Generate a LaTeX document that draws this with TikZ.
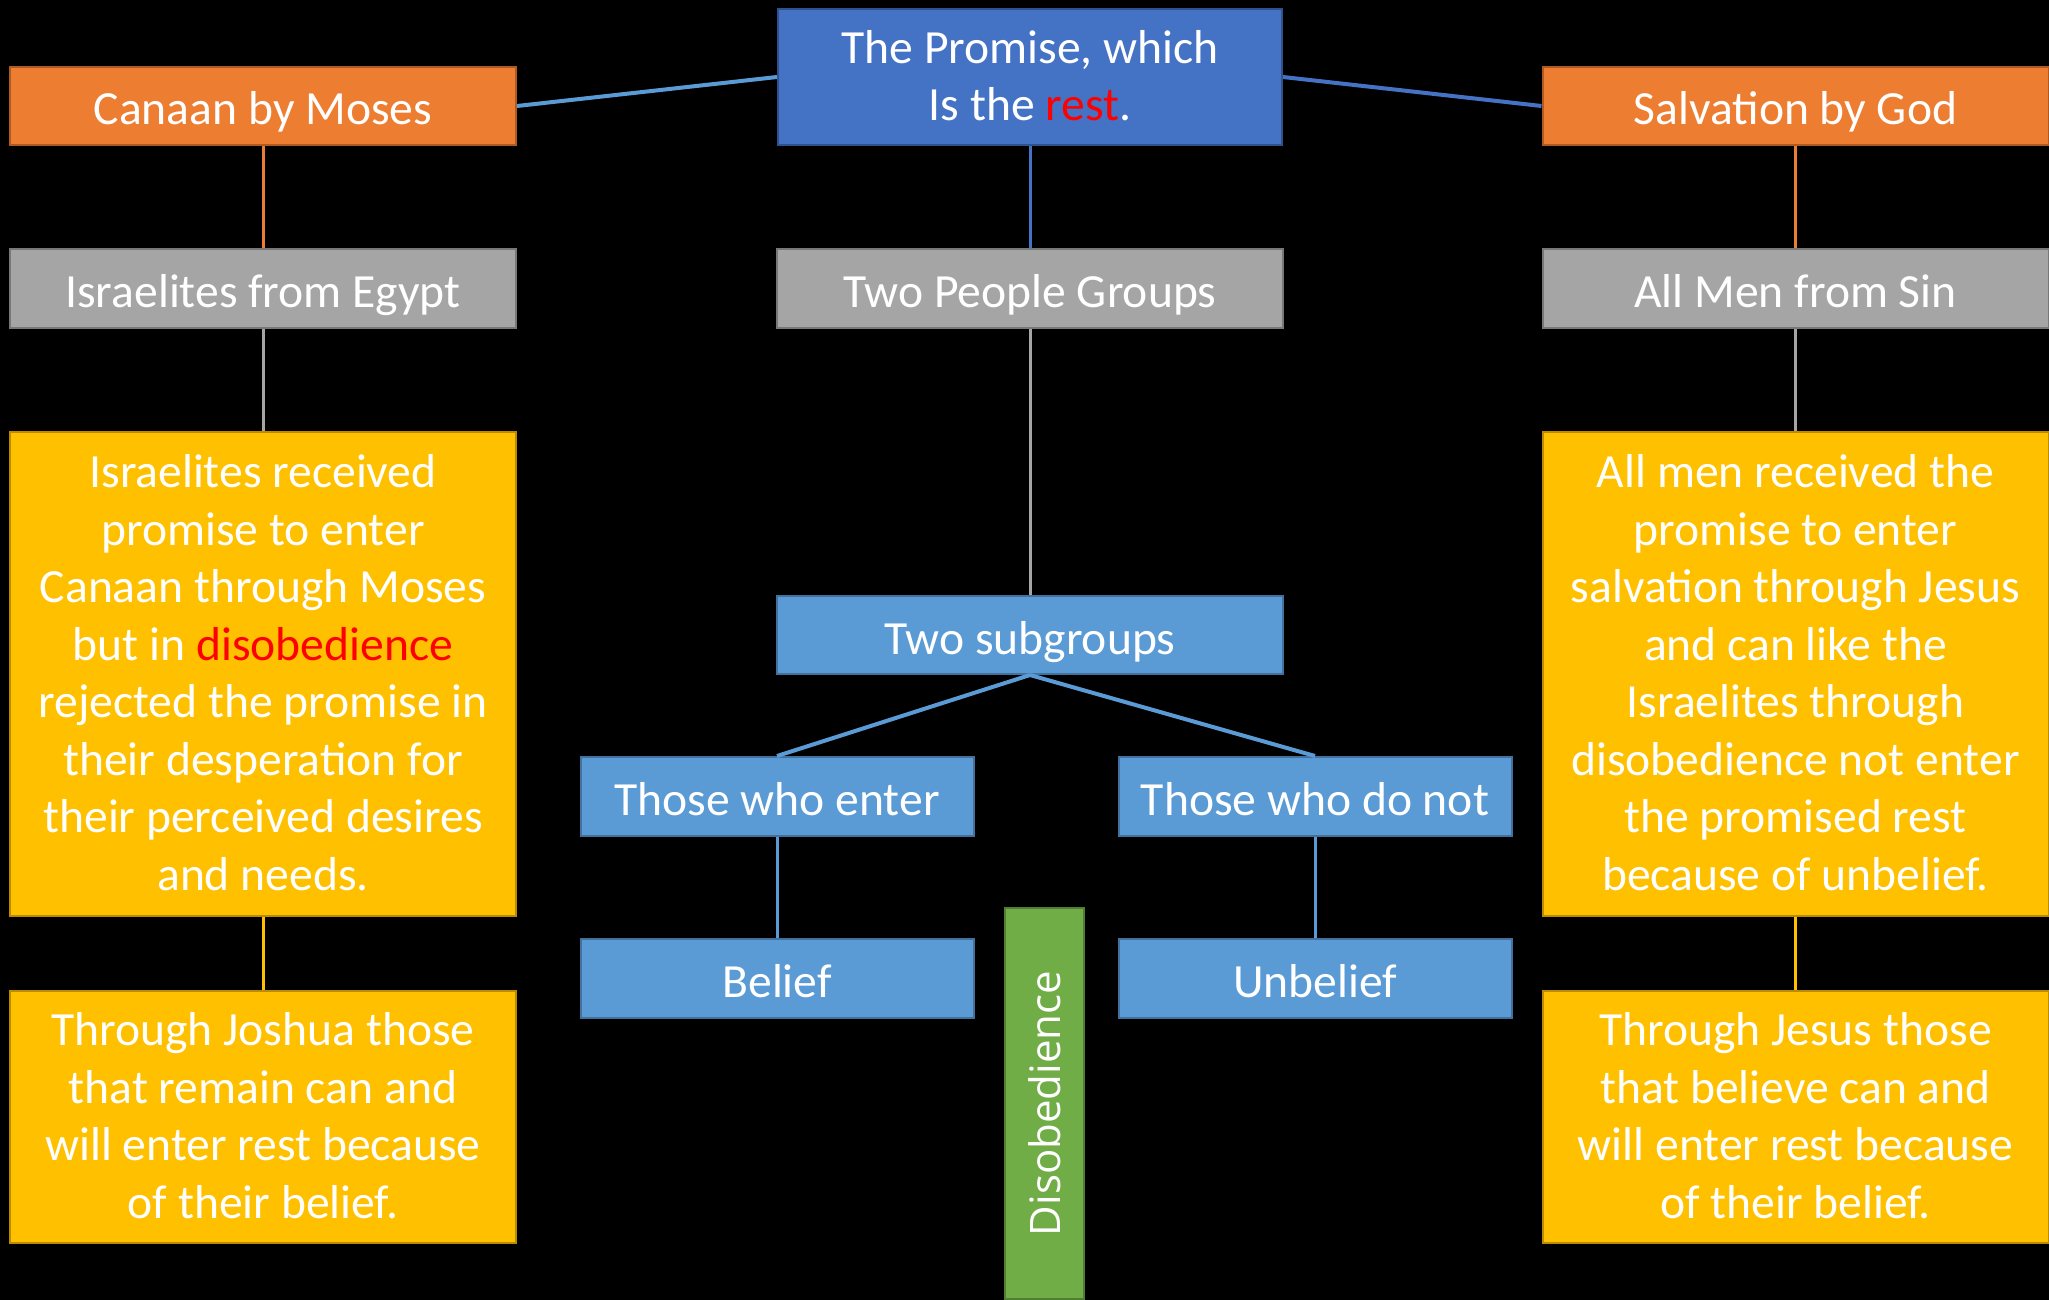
\documentclass[tikz,border=0pt]{standalone}
\usepackage{fontspec}
\setmainfont{Carlito}
\newfontfamily\sidefont{Open Sans}
\definecolor{orangeF}{HTML}{ED7D31}
\definecolor{orangeD}{HTML}{AE5A21}
\definecolor{grayF}{HTML}{A5A5A5}
\definecolor{grayD}{HTML}{787878}
\definecolor{goldF}{HTML}{FFC000}
\definecolor{goldD}{HTML}{BC8C00}
\definecolor{blueF}{HTML}{4472C4}
\definecolor{blueD}{HTML}{2F528F}
\definecolor{lblueF}{HTML}{5B9BD5}
\definecolor{lblueD}{HTML}{41719C}
\definecolor{greenF}{HTML}{70AD47}
\definecolor{greenD}{HTML}{507E32}
\newcommand\lstop{\rule{0pt}{25pt}}
\newcommand\lstopm{\rule{0pt}{21pt}}
\newcommand\lsbot{\rule[-6pt]{0pt}{6pt}}
\begin{document}
\begin{tikzpicture}[x=0.5pt,y=-0.5pt,
    box/.style={draw,line width=1pt,text=white,align=center,inner sep=0pt,
        font=\fontsize{23.8pt}{28.75pt}\selectfont},
    one/.style={box,execute at begin node=\lstop,execute at end node=\lsbot},
    wide/.style={one,minimum width=253pt,minimum height=39pt},
    half/.style={one,fill=lblueF,draw=lblueD,minimum width=196.5pt,minimum height=39.5pt},
    tall/.style={box,fill=goldF,draw=goldD,minimum width=253pt,minimum height=242pt},
    low/.style={box,fill=goldF,draw=goldD,minimum width=253pt,minimum height=126pt},
    link/.style={line width=1.5pt}]
    \useasboundingbox[fill=black] (0,0) rectangle (2049,1300);
    \node[box,fill=blueF,draw=blueD,minimum width=252pt,minimum height=68pt] (promise) at (1030,77) {\lstopm The Promise, which\\Is the \textcolor{red}{rest}.\lsbot};
    \node[wide,fill=orangeF,draw=orangeD] (canaan) at (263,106) {Canaan by Moses};
    \node[wide,fill=orangeF,draw=orangeD] (salvation) at (1795.5,106) {Salvation by God};
    \node[wide,fill=grayF,draw=grayD] (israel) at (263,288.5) {Israelites from Egypt};
    \node[wide,fill=grayF,draw=grayD] (people) at (1030,288.5) {Two People Groups};
    \node[wide,fill=grayF,draw=grayD] (allmen) at (1795.5,288.5) {All Men from Sin};
    \node[tall] (israeltext) at (263,674) {\lstopm Israelites received\\promise to enter\\Canaan through Moses\\but in \textcolor{red}{disobedience}\\rejected the promise in\\their desperation for\\their perceived desires\\and needs.\lsbot};
    \node[tall] (alltext) at (1795.5,674) {\lstopm All men received the\\promise to enter\\salvation through Jesus\\and can like the\\Israelites through\\disobedience not enter\\the promised rest\\because of unbelief.\lsbot};
    \node[low] (joshua) at (263,1117) {\lstopm Through Joshua those\\that remain can and\\will enter rest because\\of their belief.\lsbot};
    \node[low] (jesus) at (1795.5,1117) {\lstopm Through Jesus those\\that believe can and\\will enter rest because\\of their belief.\lsbot};
    \node[wide,fill=lblueF,draw=lblueD] (sub) at (1030,635) {Two subgroups};
    \node[half] (enter) at (777,796.5) {Those who enter};
    \node[half] (donot) at (1315,796.5) {Those who do not};
    \node[half] (belief) at (777,978.5) {Belief};
    \node[half] (unbelief) at (1315,978.5) {Unbelief};
    \node[draw=greenD,fill=greenF,line width=1pt,text=white,rotate=90,minimum width=195.5pt,minimum height=39.5pt,font=\sidefont\fontsize{21pt}{24pt}\selectfont] (disob) at (1044.5,1103.5) {Disobedience};
    \draw[lblueF,line width=2pt] (canaan.east) -- (promise.west);
    \draw[blueF,line width=2pt] (promise.east) -- (salvation.west);
    \draw[blueF,link] (promise.south) -- (people.north);
    \draw[orangeF,link] (canaan.south) -- (israel.north);
    \draw[orangeF,link] (salvation.south) -- (allmen.north);
    \draw[grayF,link] (israel.south) -- (israeltext.north);
    \draw[grayF,link] (allmen.south) -- (alltext.north);
    \draw[grayF,link] (people.south) -- (sub.north);
    \draw[goldF,link] (israeltext.south) -- (joshua.north);
    \draw[goldF,link] (alltext.south) -- (jesus.north);
    \draw[lblueF,line width=2pt] (sub.south) -- (enter.north);
    \draw[lblueF,line width=2pt] (sub.south) -- (donot.north);
    \draw[lblueF,link] (enter.south) -- (belief.north);
    \draw[lblueF,link] (donot.south) -- (unbelief.north);
\end{tikzpicture}
\end{document}
